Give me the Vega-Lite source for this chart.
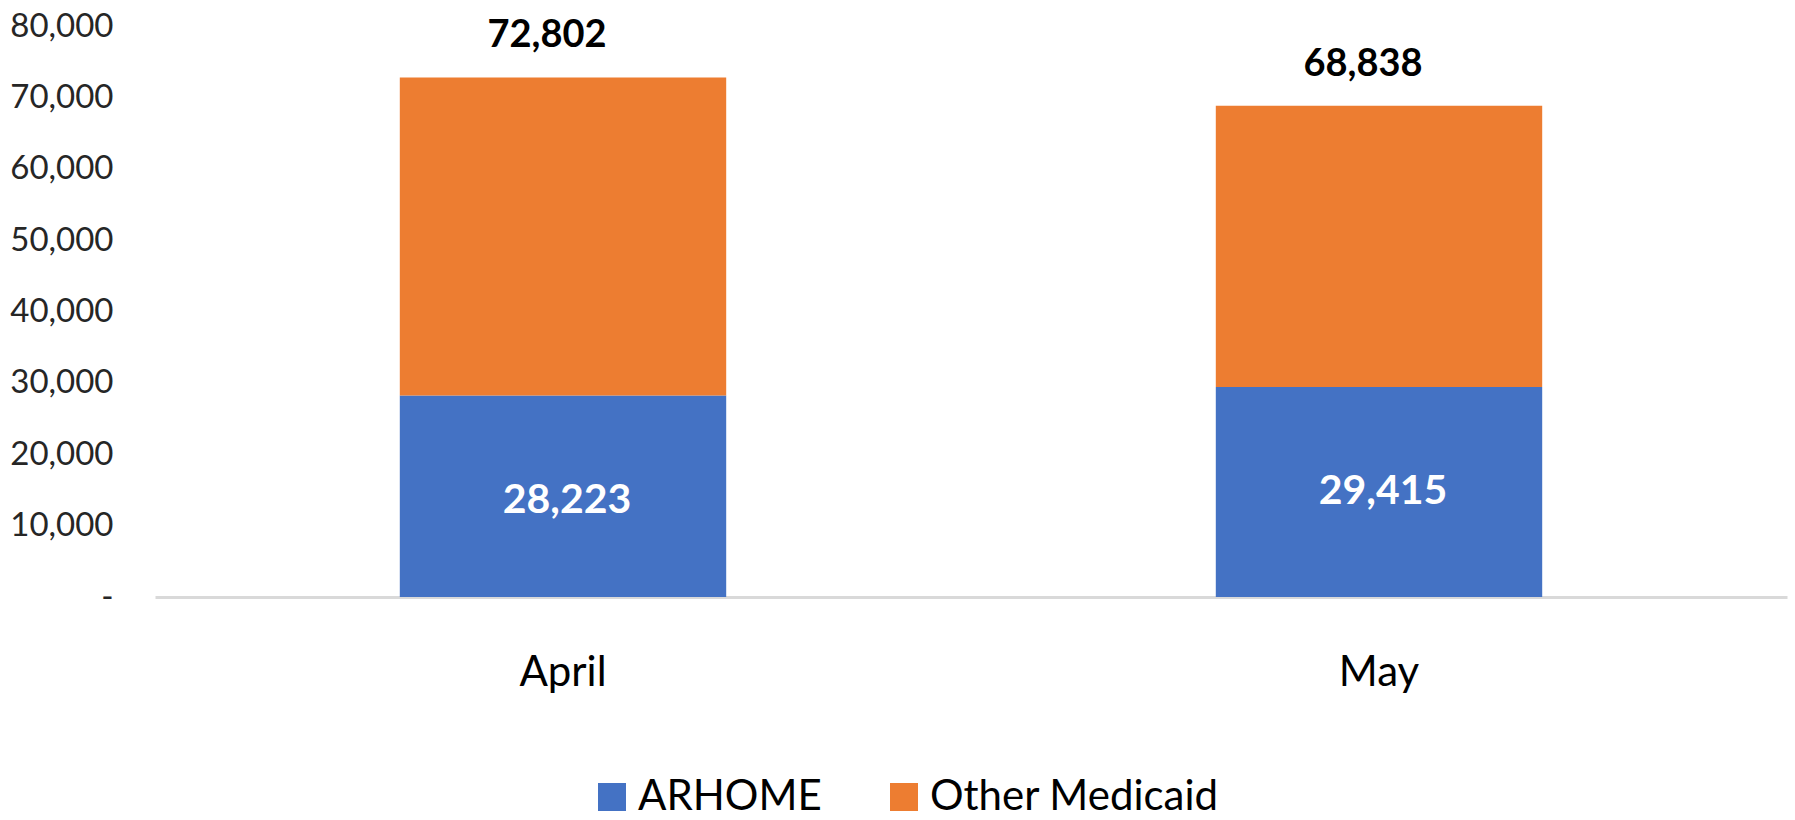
{
  "$schema": "https://vega.github.io/schema/vega-lite/v6.json",
  "width": 1632,
  "height": 571,
  "autosize": {"type": "none"},
  "padding": {"left": 155, "top": 26, "right": 8, "bottom": 223},
  "background": "white",
  "config": {"view": {"stroke": null}, "font": "Lato"},
  "data": {
    "values": [
      {"month": "April", "series": "ARHOME", "value": 28223},
      {"month": "April", "series": "Other Medicaid", "value": 44579},
      {"month": "May", "series": "ARHOME", "value": 29415},
      {"month": "May", "series": "Other Medicaid", "value": 39423}
    ]
  },
  "layer": [
    {
      "mark": {"type": "bar"},
      "encoding": {
        "x": {
          "field": "month",
          "type": "nominal",
          "sort": ["April", "May"],
          "scale": {"paddingInner": 0.6, "paddingOuter": 0.3},
          "axis": {
            "title": null,
            "labelAngle": 0,
            "labelFont": "Lato",
            "labelFontSize": 42,
            "labelColor": "#000000",
            "labelBaseline": "alphabetic",
            "labelPadding": 88,
            "ticks": false,
            "tickSize": 0,
            "domainColor": "#d9d9d9",
            "domainWidth": 3
          }
        },
        "y": {
          "field": "value",
          "type": "quantitative",
          "stack": "zero",
          "scale": {"domain": [0, 80000], "nice": false},
          "axis": {
            "title": null,
            "grid": false,
            "domain": false,
            "ticks": false,
            "tickSize": 0,
            "values": [0, 10000, 20000, 30000, 40000, 50000, 60000, 70000, 80000],
            "labelExpr": "datum.value === 0 ? '-\u00a0\u00a0\u00a0' : format(datum.value, ',')",
            "labelFont": "Lato",
            "labelFontSize": 33,
            "labelPadding": 42,
            "labelColor": "#262626"
          }
        },
        "order": {"field": "series", "type": "nominal", "sort": "ascending"},
        "color": {
          "field": "series",
          "type": "nominal",
          "scale": {"domain": ["ARHOME", "Other Medicaid"], "range": ["#4472C4", "#ED7D31"]},
          "legend": {
            "title": null,
            "orient": "none",
            "legendX": 436,
            "legendY": 750,
            "direction": "horizontal",
            "symbolType": "square",
            "symbolSize": 784,
            "symbolStrokeWidth": 0,
            "symbolOpacity": 1,
            "labelFont": "Lato",
            "labelFontSize": 42,
            "labelColor": "#000000",
            "labelOffset": 5,
            "labelLimit": 0,
            "columnPadding": 61
          }
        }
      }
    },
    {
      "transform": [{"filter": "datum.series === 'ARHOME'"}],
      "mark": {"type": "text", "color": "white", "fontSize": 41, "fontWeight": "bold", "baseline": "middle", "dy": 105, "dx": 4},
      "encoding": {
        "x": {"field": "month", "type": "nominal", "sort": ["April", "May"]},
        "y": {"field": "value", "type": "quantitative"},
        "text": {"field": "value", "type": "quantitative", "format": ","}
      }
    },
    {
      "mark": {"type": "text", "color": "#000000", "fontSize": 38, "fontWeight": "bold", "baseline": "alphabetic", "dy": -30, "dx": -16},
      "encoding": {
        "x": {"field": "month", "type": "nominal", "sort": ["April", "May"]},
        "y": {"aggregate": "sum", "field": "value", "type": "quantitative"},
        "text": {"aggregate": "sum", "field": "value", "type": "quantitative", "format": ","}
      }
    }
  ]
}
